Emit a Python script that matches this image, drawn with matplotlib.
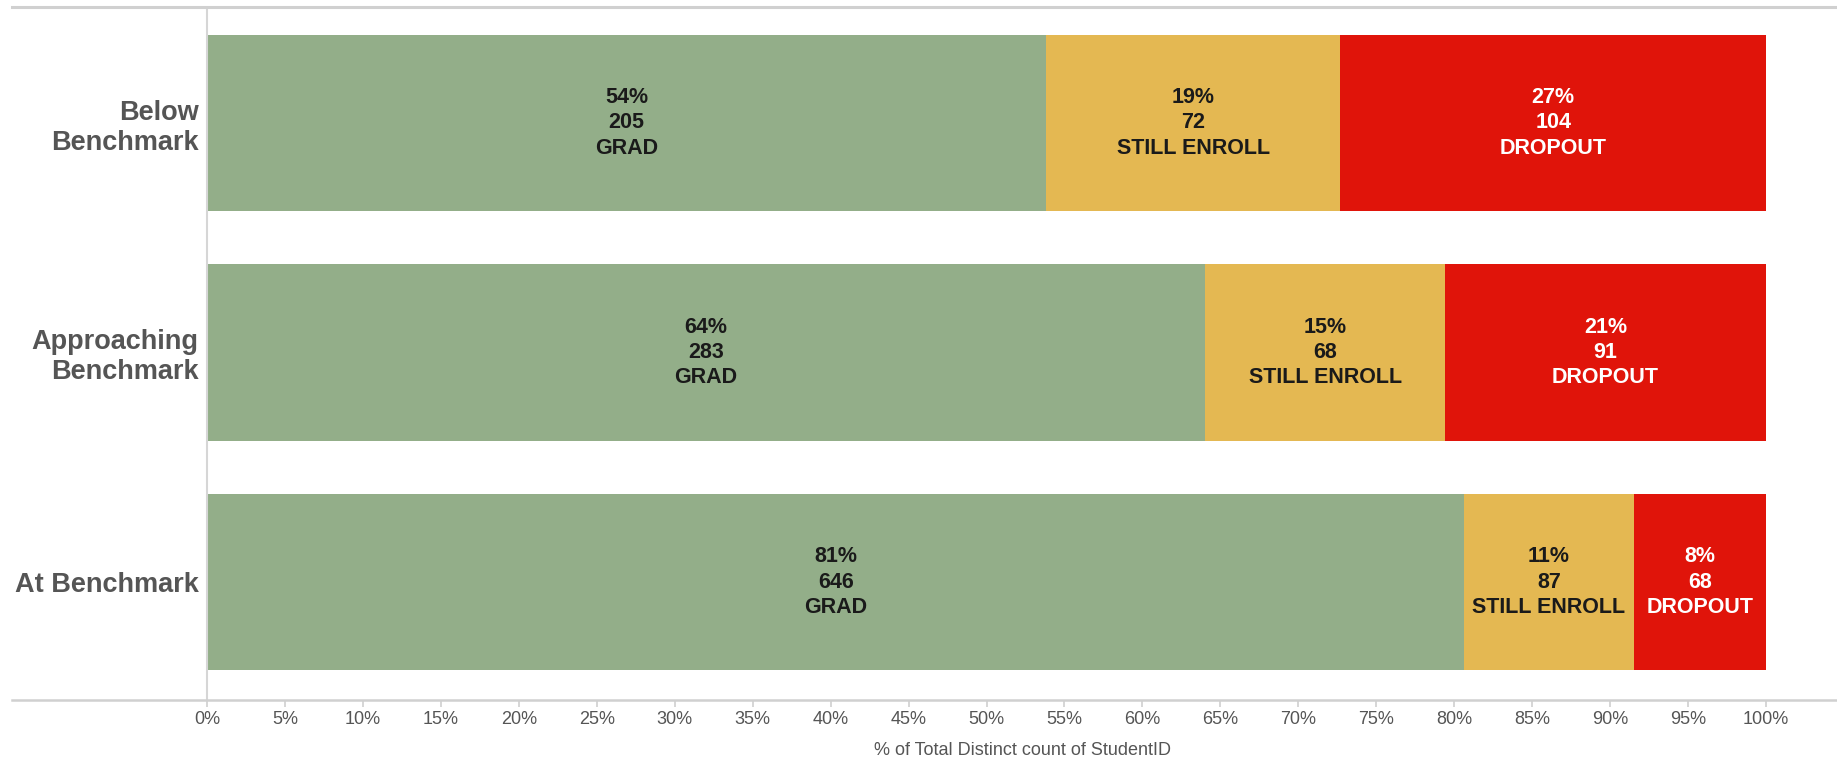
import numpy as np
import matplotlib
matplotlib.use('Agg')
import matplotlib.pyplot as plt
from matplotlib.lines import Line2D

plt.rcParams['font.family'] = ['Liberation Sans', 'DejaVu Sans']

# Data
categories = ['Below\nBenchmark', 'Approaching\nBenchmark', 'At Benchmark']
grad = [205, 283, 646]
still_enroll = [72, 68, 87]
dropout = [104, 91, 68]
segment_names = ['GRAD', 'STILL ENROLL', 'DROPOUT']
segment_colors = ['#93ae89', '#e4b852', '#e0140a']
label_colors = ['#1a1a1a', '#1a1a1a', '#ffffff']
ticks = list(range(0, 101, 5))

counts = np.array([grad, still_enroll, dropout], dtype=float)
totals = counts.sum(axis=0)
pcts = counts / totals * 100

W, H = 1837, 758
fig = plt.figure(figsize=(W / 100, H / 100), dpi=100)
ax = fig.add_axes([207 / W, 58 / H, (W - 207) / W, (700 - 8) / H])

y = np.arange(len(categories))
left = np.zeros(len(categories))
for i, name in enumerate(segment_names):
    ax.barh(y, pcts[i], left=left, height=0.767, color=segment_colors[i],
            edgecolor='none')
    for j in range(len(categories)):
        cx = left[j] + pcts[i][j] / 2
        txt = f"{pcts[i][j]:.0f}%\n{int(counts[i][j])}\n{name}"
        ax.text(cx, y[j], txt, ha='center', va='center', fontsize=15.5,
                fontweight='bold', color=label_colors[i], linespacing=1.28)
    left += pcts[i]

ax.set_xlim(0, (W - 207) / 15.59)
ax.set_ylim((700 - 123) / 229.5, (8 - 123) / 229.5)

ax.set_yticks(y)
ax.set_yticklabels(categories, fontsize=19.5, fontweight='bold', color='#555555')
ax.tick_params(axis='y', length=0, pad=6)

ax.set_xticks(ticks)
ax.set_xticklabels([f"{t}%" for t in ticks], fontsize=13, color='#555555')
ax.tick_params(axis='x', length=5, color='#d0d0d0', width=1.2, pad=3)
ax.set_xlabel('% of Total Distinct count of StudentID', fontsize=13,
              color='#555555', labelpad=10)

for side in ['top', 'right', 'bottom']:
    ax.spines[side].set_visible(False)
ax.spines['left'].set_color('#d6d6d6')
ax.spines['left'].set_linewidth(1.5)

# horizontal rules running across the whole figure (top and baseline)
fig.add_artist(Line2D([12 / W, 1], [1 - 700 / H, 1 - 700 / H], color='#d0d0d0', lw=1.8))
fig.add_artist(Line2D([12 / W, 1], [1 - 7 / H, 1 - 7 / H], color='#d0d0d0', lw=2.2))

fig.savefig('out.png', dpi=100, facecolor='white')
